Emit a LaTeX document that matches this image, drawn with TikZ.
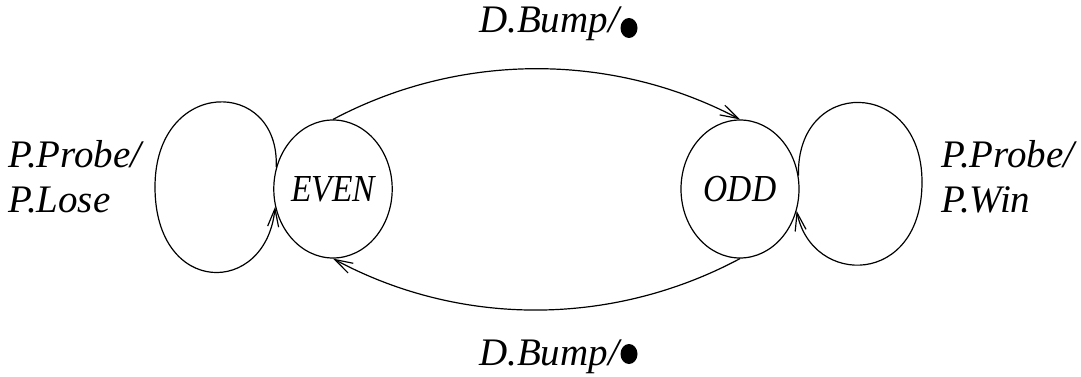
\documentclass[tikz,border=0pt]{standalone}
\usepackage{graphicx}
\usepackage{fontspec}
\setmainfont{Liberation Serif}
\usetikzlibrary{arrows.meta,shapes.geometric}

% state names are set slightly taller than wide
\newcommand{\statename}[1]{\scalebox{1}[1.14]{#1}}

\tikzset{
  state/.style={draw, ellipse, line width=1.2pt, minimum width=118pt, minimum height=138pt,
                inner sep=0pt, font=\fontsize{33.5}{40}\selectfont\itshape},
  lbl/.style={anchor=base west, inner sep=0pt, font=\fontsize{39}{47}\selectfont\itshape},
  blob/.style={draw=none, fill=black, ellipse, minimum width=17pt, minimum height=20pt, inner sep=0pt},
  edge/.style={line width=1.2pt, -{Straight Barb[length=18pt,width=11pt,line width=1.2pt]}}
}

\begin{document}
\begin{tikzpicture}[x=1pt, y=-1pt]
  \useasboundingbox (0,0) rectangle (1081,377);

  % the two states
  \node[state] (even) at (333,189) {\statename{EVEN}};
  \node[state] (odd)  at (740,189) {\statename{ODD}};

  % transition labels
  \node[lbl] (topl) at (479,33) {D.Bump/};
  \node[blob] (topdot) at (629,28) {};
  \node[lbl] (botl) at (479,365) {D.Bump/};
  \node[blob] (botdot) at (629,354) {};

  \node[lbl] (lp1) at (8,167) {P.Probe/};
  \node[lbl] (lp2) at (8,212) {P.Lose};
  \node[lbl] (rp1) at (941,167) {P.Probe/};
  \node[lbl] (rp2) at (941,212) {P.Win};

  % EVEN <-> ODD
  \draw[edge] (even.north) .. controls (460,52) and (612,52) .. (odd.north);
  \draw[edge] (odd.south) .. controls (612,327) and (460,327) .. (even.south);

  % self loop on EVEN
  \coordinate (lk) at (155,187);
  \draw[line width=1.2pt] (even.159) .. controls (280,77) and (155,77) .. (lk);
  \draw[edge] (lk) .. controls (155,297) and (266,297) .. (even.197);

  % self loop on ODD
  \coordinate (rk) at (922,182);
  \draw[line width=1.2pt] (odd.13) .. controls (796,77) and (922,77) .. (rk);
  \draw[edge] (rk) .. controls (922,287) and (812,287) .. (odd.339);
\end{tikzpicture}
\end{document}
